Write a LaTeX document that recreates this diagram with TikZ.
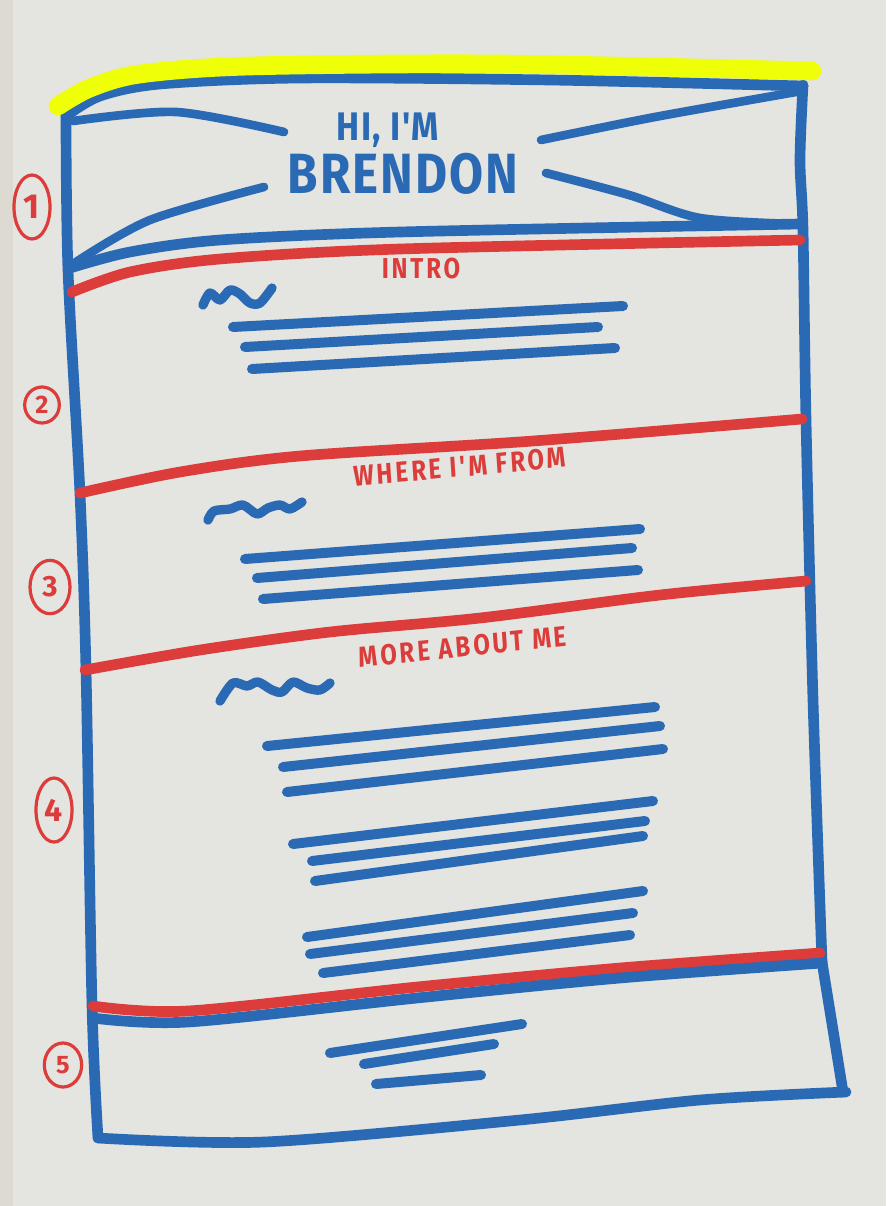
\documentclass[tikz,border=0pt]{standalone}
\usepackage{fontspec}
\newfontfamily\hand[LetterSpace=4]{Fira Sans}
\newfontfamily\handwide[LetterSpace=12]{Fira Sans}
\usetikzlibrary{shapes.geometric}
\definecolor{paper}{HTML}{E4E4E1}
\definecolor{pageedge}{HTML}{DCDAD1}
\definecolor{mblue}{HTML}{2A6AB4}
\definecolor{mred}{HTML}{DC3C3A}
\definecolor{myellow}{HTML}{EEFF08}
\tikzset{
  boxmk/.style={draw=mblue, line width=8pt, line cap=round, line join=round},
  bowmk/.style={draw=mblue, line width=6.5pt, line cap=round, line join=round},
  textmk/.style={draw=mblue, line width=7.5pt, line cap=round},
  squig/.style={draw=mblue, line width=7pt, line cap=round, line join=round},
  redmk/.style={draw=mred, line width=8pt, line cap=round},
  yellowmk/.style={draw=myellow, line width=14pt, line cap=round},
  circnum/.style={ellipse, draw=mred, line width=2.4pt, inner sep=0pt, text=mred,
    font=\hand\bfseries\fontsize{19}{19}\selectfont},
  redlabel/.style={text=mred, inner sep=0pt, yscale=1.2, font=\handwide\bfseries\fontsize{18}{18}\selectfont},
  bluetitle/.style={text=mblue, inner sep=0pt, yscale=1.15},
}
\begin{document}
\begin{tikzpicture}[x=0.75pt,y=-0.75pt]
\fill[paper] (0,0) rectangle (886,1206);
\useasboundingbox (0,0) rectangle (886,1206);
\fill[pageedge] (0,0) rectangle (13,1206);

% outer frame
\draw[boxmk] plot[smooth] coordinates {(66,116) (68,270) (80,494) (86,670) (92,1005) (98,1138)};
\draw[boxmk] plot[smooth] coordinates {(803,85) (800,160) (803,230) (806,420) (813,700) (822,962)};
\draw[boxmk] plot[smooth] coordinates {(822,962) (833,1030) (843,1092)};
\draw[boxmk] plot[smooth] coordinates {(98,1138) (264,1142) (520,1120) (700,1100) (846,1092)};
\draw[boxmk] plot[smooth] coordinates {(66,116) (100,96) (160,84) (300,78) (550,80) (803,86)};

% highlighter
\draw[yellowmk] plot[smooth] coordinates {(58,106) (90,88) (140,74) (250,66) (500,64) (812,71)};

% header bow
\draw[bowmk] plot[smooth] coordinates {(73,121) (176,112) (284,132)};
\draw[bowmk] plot[smooth] coordinates {(76,262) (150,220) (264,187)};
\draw[bowmk] plot[smooth] coordinates {(541,140) (655,117) (796,92)};
\draw[bowmk] plot[smooth] coordinates {(546,173) (629,195) (700,218) (795,224)};
\draw[boxmk] plot[smooth] coordinates {(70,268) (130,252) (220,240) (400,232) (800,224)};
\draw[redmk] plot[smooth] coordinates {(72,292) (130,272) (220,259) (400,249) (800,240)};

\node[bluetitle, font=\hand\bfseries\fontsize{26}{26}\selectfont] (hi) at (388,130) {HI, I'M};
\node[bluetitle, font=\hand\bfseries\fontsize{37}{37}\selectfont] (brendon) at (403,174) {BRENDON};

% section 2
\node[redlabel] (intro) at (421,269) {INTRO};
\draw[squig] plot[smooth] coordinates {(203,305) (210,293) (220,300) (230,290) (240,294) (250,303) (260,303) (272,288)};
\draw[textmk] (233,327) -- (623,306);
\draw[textmk] (245,347) -- (598,327);
\draw[textmk] (252,369) -- (615,348);

% divider 2/3
\draw[redmk] plot[smooth] coordinates {(80,493) (180,472) (300,456) (533,441) (802,419)};
\node[redlabel, rotate=4.5] (where) at (460,467) {WHERE I'M FROM};
\draw[squig] plot[smooth] coordinates {(208,520) (214,511) (230,509) (243,505) (257,514) (268,508) (280,505) (290,509) (302,502)};
\draw[textmk] (245,559) -- (640,529);
\draw[textmk] (257,578) -- (632,548);
\draw[textmk] (263,599) -- (638,570);

% divider 3/4
\draw[redmk] plot[smooth] coordinates {(85,670) (200,650) (330,632) (480,618) (660,595) (806,581)};
\node[redlabel, rotate=5] (more) at (463,647) {MORE ABOUT ME};
\draw[squig] plot[smooth] coordinates {(220,701) (233,683) (247,686) (258,682) (272,690) (282,692) (293,682) (307,688) (320,690) (330,683)};
\draw[textmk] (267,746) -- (655,707);
\draw[textmk] (283,767) -- (660,726);
\draw[textmk] (287,792) -- (663,749);
\draw[textmk] (293,844) -- (653,801);
\draw[textmk] (312,861) -- (645,821);
\draw[textmk] (315,881) -- (643,836);
\draw[textmk] (307,937) -- (643,891);
\draw[textmk] (310,954) -- (633,913);
\draw[textmk] (323,973) -- (630,935);

% divider 4/5
\draw[redmk] plot[smooth] coordinates {(93,1006) (188,1011) (417,987) (620,968) (820,953)};
\draw[boxmk] plot[smooth] coordinates {(93,1018) (188,1022) (417,998) (620,978) (822,963)};
\draw[textmk] (330,1053) -- (522,1024);
\draw[textmk] (364,1064) -- (494,1044);
\draw[textmk] (376,1084) -- (481,1075);

% section numbers
\node[circnum, minimum width=27pt, minimum height=48pt, font=\hand\bfseries\fontsize{26}{26}\selectfont] (n1) at (32,207) {1};
\node[circnum, minimum width=26pt, minimum height=27pt] (n2) at (42,405) {2};
\node[circnum, minimum width=30pt, minimum height=40pt, font=\hand\bfseries\fontsize{22}{22}\selectfont] (n3) at (50,587) {3};
\node[circnum, minimum width=27pt, minimum height=48pt, font=\hand\bfseries\fontsize{24}{24}\selectfont] (n4) at (54,810) {4};
\node[circnum, minimum width=28pt, minimum height=33pt] (n5) at (63,1065) {5};
\end{tikzpicture}
\end{document}
